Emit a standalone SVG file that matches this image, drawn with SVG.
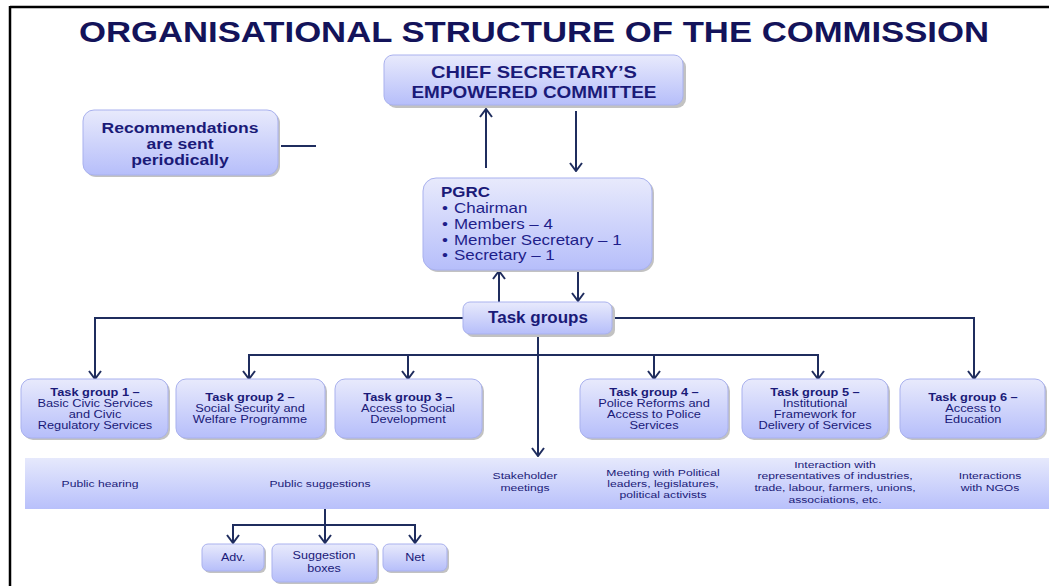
<svg xmlns="http://www.w3.org/2000/svg" width="1049" height="586" viewBox="0 0 1049 586">
<defs>
<linearGradient id="g" x1="0" y1="0" x2="0" y2="1">
<stop offset="0" stop-color="#e8eafc"/>
<stop offset="1" stop-color="#b6befa"/>
</linearGradient>
<linearGradient id="gb" x1="0" y1="0" x2="0" y2="1">
<stop offset="0" stop-color="#e6e9fc"/>
<stop offset="1" stop-color="#b8c0fb"/>
</linearGradient>
<marker id="ah" viewBox="0 0 10 14" refX="9" refY="7" markerWidth="10" markerHeight="14" markerUnits="userSpaceOnUse" orient="auto">
<path d="M1,1 L9,7 L1,13" fill="none" stroke="#1f2d5e" stroke-width="2"/>
</marker>
</defs>
<style>
.box{fill:url(#g);stroke:#a9b1ee;stroke-width:1}
.sh{fill:#c2c2c2}
.ln{fill:none;stroke:#1f2d5e;stroke-width:2}
.t{font-family:"Liberation Sans",Arial,sans-serif;fill:#1a1a78}
.b{font-weight:bold}
.c{text-anchor:middle}
</style>
<rect width="1049" height="586" fill="#ffffff"/>
<path d="M10,7 H1049 M10,6 V586" fill="none" stroke="#000" stroke-width="2.5"/>
<text id="title" class="t b c" x="534" y="42" font-size="29" style="fill:#13135a" textLength="910" lengthAdjust="spacingAndGlyphs">ORGANISATIONAL STRUCTURE OF THE COMMISSION</text>

<g id="connectors">
<line class="ln" x1="281" y1="146" x2="316" y2="146"/>
<line class="ln" x1="486" y1="168" x2="486" y2="109" marker-end="url(#ah)"/>
<line class="ln" x1="576" y1="111" x2="576" y2="171" marker-end="url(#ah)"/>
<line class="ln" x1="499" y1="302" x2="499" y2="271" marker-end="url(#ah)"/>
<line class="ln" x1="578" y1="271" x2="578" y2="301" marker-end="url(#ah)"/>
<path class="ln" d="M463,318 H95 V340"/>
<path class="ln" d="M613,318 H974 V340"/>
<line class="ln" x1="95" y1="330" x2="95" y2="379" marker-end="url(#ah)"/>
<line class="ln" x1="974" y1="330" x2="974" y2="379" marker-end="url(#ah)"/>
<path class="ln" d="M249,366 V355 H818 V366"/>
<line class="ln" x1="249" y1="360" x2="249" y2="379" marker-end="url(#ah)"/>
<line class="ln" x1="408" y1="355" x2="408" y2="379" marker-end="url(#ah)"/>
<line class="ln" x1="654" y1="355" x2="654" y2="379" marker-end="url(#ah)"/>
<line class="ln" x1="818" y1="360" x2="818" y2="379" marker-end="url(#ah)"/>
<line class="ln" x1="538" y1="335" x2="538" y2="456" marker-end="url(#ah)"/>
<line class="ln" x1="325" y1="509" x2="325" y2="543" marker-end="url(#ah)"/>
<path class="ln" d="M233,532 V525 H415 V532"/>
<line class="ln" x1="233" y1="528" x2="233" y2="543" marker-end="url(#ah)"/>
<line class="ln" x1="415" y1="528" x2="415" y2="543" marker-end="url(#ah)"/>
</g>

<g id="csec">
<rect class="sh" x="387" y="58" width="299" height="50" rx="9"/>
<rect class="box" x="384" y="55" width="299" height="50" rx="9"/>
<text class="t b c" x="534" y="78" font-size="17" textLength="206" lengthAdjust="spacingAndGlyphs">CHIEF SECRETARY’S</text>
<text class="t b c" x="534" y="98" font-size="17" textLength="245" lengthAdjust="spacingAndGlyphs">EMPOWERED COMMITTEE</text>
</g>

<g id="recommendations">
<rect class="sh" x="85" y="112" width="195" height="65" rx="11"/>
<rect class="box" x="83" y="110" width="195" height="65" rx="11"/>
<text class="t b c" font-size="14.5" transform="matrix(1.21 0 0 1 180 0)"><tspan x="0" y="133">Recommendations</tspan><tspan x="0" y="149">are sent</tspan><tspan x="0" y="165">periodically</tspan></text>
</g>

<g id="pgrc">
<rect class="sh" x="425" y="180" width="229" height="92" rx="13"/>
<rect class="box" x="423" y="178" width="229" height="92" rx="13"/>
<g transform="matrix(1.13 0 0 1 454 0)">
<text class="t b" x="-11.5" y="197" font-size="15">PGRC</text>
<text class="t" font-size="15" style="fill:#1e1e8a">
<tspan x="-10.6" y="213">•</tspan><tspan x="0" y="213">Chairman</tspan>
<tspan x="-10.6" y="229">•</tspan><tspan x="0" y="229">Members – 4</tspan>
<tspan x="-10.6" y="245">•</tspan><tspan x="0" y="245">Member Secretary – 1</tspan>
<tspan x="-10.6" y="260">•</tspan><tspan x="0" y="260">Secretary – 1</tspan>
</text>
</g>
</g>

<g id="taskgroups">
<rect class="sh" x="466" y="304" width="149" height="33" rx="7"/>
<rect class="box" x="463" y="302" width="149" height="32" rx="7"/>
<text class="t b c" x="538" y="323" font-size="17">Task groups</text>
</g>

<g id="tg1">
<rect class="sh" x="23" y="381" width="147" height="59" rx="10"/>
<rect class="box" x="21" y="379" width="147" height="59" rx="10"/>
<text class="t c" font-size="10.5" transform="matrix(1.22 0 0 1 95 0)"><tspan class="b" x="0" y="396">Task group 1 –</tspan><tspan x="0" y="407">Basic Civic Services</tspan><tspan x="0" y="418">and Civic</tspan><tspan x="0" y="429">Regulatory Services</tspan></text>
</g>
<g id="tg2">
<rect class="sh" x="178" y="381" width="149" height="59" rx="10"/>
<rect class="box" x="176" y="379" width="149" height="59" rx="10"/>
<text class="t c" font-size="10.5" transform="matrix(1.22 0 0 1 250 0)"><tspan class="b" x="0" y="401">Task group 2 –</tspan><tspan x="0" y="412">Social Security and</tspan><tspan x="0" y="423">Welfare Programme</tspan></text>
</g>
<g id="tg3">
<rect class="sh" x="337" y="381" width="147" height="59" rx="10"/>
<rect class="box" x="335" y="379" width="147" height="59" rx="10"/>
<text class="t c" font-size="10.5" transform="matrix(1.22 0 0 1 408 0)"><tspan class="b" x="0" y="401">Task group 3 –</tspan><tspan x="0" y="412">Access to Social</tspan><tspan x="0" y="423">Development</tspan></text>
</g>
<g id="tg4">
<rect class="sh" x="582" y="381" width="148" height="59" rx="10"/>
<rect class="box" x="580" y="379" width="148" height="59" rx="10"/>
<text class="t c" font-size="10.5" transform="matrix(1.22 0 0 1 654 0)"><tspan class="b" x="0" y="396">Task group 4 –</tspan><tspan x="0" y="407">Police Reforms and</tspan><tspan x="0" y="418">Access to Police</tspan><tspan x="0" y="429">Services</tspan></text>
</g>
<g id="tg5">
<rect class="sh" x="744" y="381" width="146" height="59" rx="10"/>
<rect class="box" x="742" y="379" width="146" height="59" rx="10"/>
<text class="t c" font-size="10.5" transform="matrix(1.22 0 0 1 815 0)"><tspan class="b" x="0" y="396">Task group 5 –</tspan><tspan x="0" y="407">Institutional</tspan><tspan x="0" y="418">Framework for</tspan><tspan x="0" y="429">Delivery of Services</tspan></text>
</g>
<g id="tg6">
<rect class="sh" x="902" y="381" width="145" height="59" rx="10"/>
<rect class="box" x="900" y="379" width="145" height="59" rx="10"/>
<text class="t c" font-size="10.5" transform="matrix(1.22 0 0 1 973 0)"><tspan class="b" x="0" y="401">Task group 6 –</tspan><tspan x="0" y="412">Access to</tspan><tspan x="0" y="423">Education</tspan></text>
</g>

<g id="band">
<rect x="25" y="458" width="1024" height="51" fill="url(#gb)"/>
<text class="t c" font-size="9.2" transform="matrix(1.32 0 0 1 100 0)"><tspan x="0" y="487">Public hearing</tspan></text>
<text class="t c" font-size="9.2" transform="matrix(1.32 0 0 1 320 0)"><tspan x="0" y="487">Public suggestions</tspan></text>
<text class="t c" font-size="9.2" transform="matrix(1.32 0 0 1 525 0)"><tspan x="0" y="479">Stakeholder</tspan><tspan x="0" y="491">meetings</tspan></text>
<text class="t c" font-size="9.2" transform="matrix(1.32 0 0 1 663 0)"><tspan x="0" y="476">Meeting with Political</tspan><tspan x="0" y="487">leaders, legislatures,</tspan><tspan x="0" y="498">political activists</tspan></text>
<text class="t c" font-size="9.2" transform="matrix(1.32 0 0 1 835 0)"><tspan x="0" y="468">Interaction with</tspan><tspan x="0" y="479">representatives of industries,</tspan><tspan x="0" y="491">trade, labour, farmers, unions,</tspan><tspan x="0" y="503">associations, etc.</tspan></text>
<text class="t c" font-size="9.2" transform="matrix(1.32 0 0 1 990 0)"><tspan x="0" y="479">Interactions</tspan><tspan x="0" y="491">with NGOs</tspan></text>
</g>

<g id="adv">
<rect class="sh" x="204" y="546" width="62" height="27" rx="6"/>
<rect class="box" x="202" y="544" width="62" height="27" rx="6"/>
<text class="t c" font-size="10" transform="matrix(1.26 0 0 1 233 0)" x="0" y="561">Adv.</text>
</g>
<g id="suggestion-boxes">
<rect class="sh" x="274" y="546" width="105" height="38" rx="6"/>
<rect class="box" x="272" y="544" width="105" height="38" rx="6"/>
<text class="t c" font-size="10" transform="matrix(1.26 0 0 1 324 0)"><tspan x="0" y="559">Suggestion</tspan><tspan x="0" y="572">boxes</tspan></text>
</g>
<g id="net">
<rect class="sh" x="385" y="546" width="64" height="27" rx="6"/>
<rect class="box" x="383" y="544" width="64" height="27" rx="6"/>
<text class="t c" font-size="10" transform="matrix(1.26 0 0 1 415 0)" x="0" y="561">Net</text>
</g>
</svg>
